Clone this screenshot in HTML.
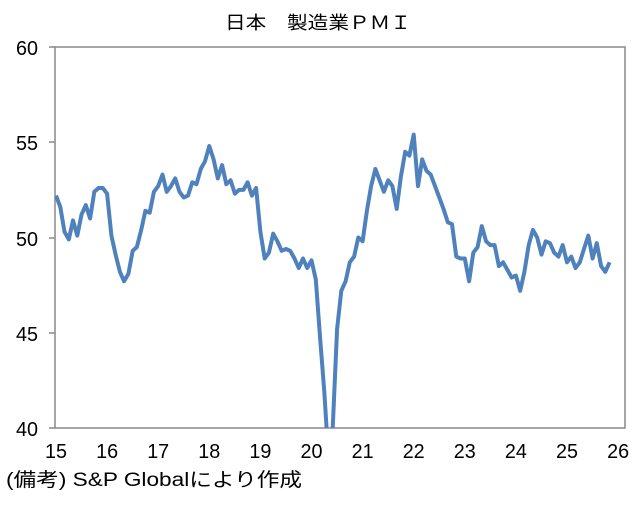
<!DOCTYPE html>
<html><head><meta charset="utf-8"><style>
body{margin:0;background:#fff;width:639px;height:526px;overflow:hidden}
svg text{font-family:"Liberation Sans","Noto Sans CJK JP",sans-serif;fill:#000}
</style></head><body>
<svg id="s" width="639" height="526" xmlns="http://www.w3.org/2000/svg">
<defs><clipPath id="c"><rect x="55" y="47" width="570" height="381"/></clipPath></defs>
<text x="225" y="29" font-size="18" textLength="186" lengthAdjust="spacingAndGlyphs">日本　製造業ＰＭＩ</text>
<rect x="55" y="47" width="570" height="381" fill="none" stroke="#888" stroke-width="1.5"/>
<g font-size="20" text-anchor="end">
<text x="38" y="55" textLength="22" lengthAdjust="spacingAndGlyphs">60</text><text x="38" y="150" textLength="22" lengthAdjust="spacingAndGlyphs">55</text><text x="38" y="246" textLength="22" lengthAdjust="spacingAndGlyphs">50</text><text x="38" y="341" textLength="22" lengthAdjust="spacingAndGlyphs">45</text><text x="38" y="436" textLength="22" lengthAdjust="spacingAndGlyphs">40</text>
</g>
<g stroke="#888" stroke-width="1.5"><line x1="49" y1="47" x2="55" y2="47"/><line x1="49" y1="142" x2="55" y2="142"/><line x1="49" y1="238" x2="55" y2="238"/><line x1="49" y1="333" x2="55" y2="333"/><line x1="49" y1="428" x2="55" y2="428"/></g>
<g id="xl" font-size="20"></g>
<text x="6" y="486" font-size="19" textLength="296" lengthAdjust="spacingAndGlyphs">(備考) S&amp;P Globalにより作成</text>
<polyline id="p" clip-path="url(#c)" fill="none" stroke="#4f81bd" stroke-width="4" stroke-linejoin="round"/>
</svg>
<script>
var d=[52.2,51.6,50.3,49.9,50.9,50.1,51.2,51.7,51.0,52.4,52.6,52.6,
52.3,50.1,49.1,48.2,47.7,48.1,49.3,49.5,50.4,51.4,51.3,52.4,
52.7,53.3,52.4,52.7,53.1,52.4,52.1,52.2,52.9,52.8,53.6,54.0,
54.8,54.1,53.1,53.8,52.8,53.0,52.3,52.5,52.5,52.9,52.2,52.6,
50.3,48.9,49.2,50.2,49.8,49.3,49.4,49.3,48.9,48.4,48.9,48.4,
48.8,47.8,44.8,41.9,38.4,40.1,45.2,47.2,47.7,48.7,49.0,50.0,
49.8,51.4,52.7,53.6,53.0,52.4,53.0,52.7,51.5,53.2,54.5,54.3,
55.4,52.7,54.1,53.5,53.3,52.7,52.1,51.5,50.8,50.7,49.0,48.9,
48.9,47.7,49.2,49.5,50.6,49.8,49.6,49.6,48.5,48.7,48.3,47.9,
48.0,47.2,48.2,49.6,50.4,50.0,49.1,49.8,49.7,49.2,49.0,49.6,
48.7,49.0,48.4,48.7,49.4,50.1,48.9,49.7,48.5,48.2,48.7];
var pts=d.map(function(v,i){return (56+i*51.1/12).toFixed(1)+","+(47+(60-v)*19.05).toFixed(1)}).join(" ");
document.getElementById("p").setAttribute("points",pts);
var g=document.getElementById("xl"),h="";
for(var y=15;y<=26;y++){var cx=56+(y-15)*51.1;h+='<text x="'+(cx-11)+'" y="458" textLength="22" lengthAdjust="spacingAndGlyphs">'+y+'</text>';}
g.innerHTML=h;
</script>
</body></html>
